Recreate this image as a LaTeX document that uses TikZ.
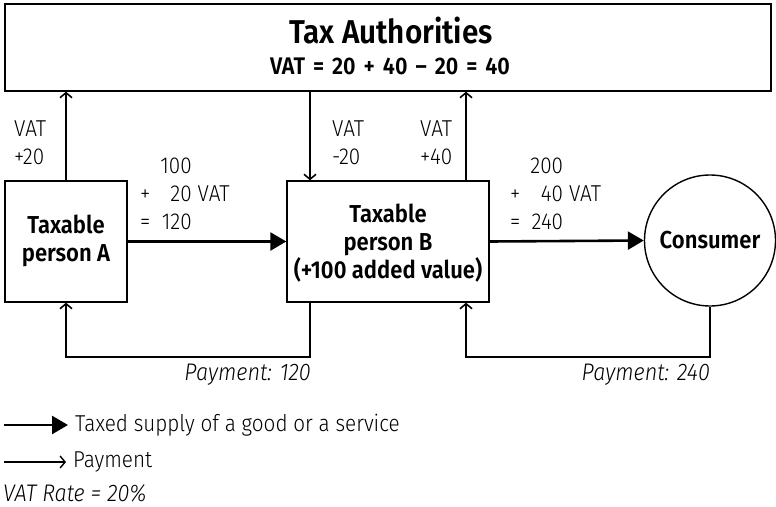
\documentclass[tikz,border=0pt]{standalone}
\usepackage{fontspec}
\setmainfont{Fira Sans}[UprightFont={* Light},BoldFont={* SemiBold},ItalicFont={* Light Italic},BoldItalicFont={* SemiBold Italic},FakeStretch=0.9]
\usetikzlibrary{arrows.meta,calc}
\newcommand\vatgap{\hspace{8pt}}

\begin{document}
\begin{tikzpicture}[x=1pt,y=-1pt,
  box/.style={draw,line width=1.4pt,inner sep=0pt},
  txt/.style={inner sep=0pt,font=\fontsize{23}{28}\selectfont,align=left},
  bold/.style={inner sep=0pt,font=\fontsize{24.5}{28}\selectfont\bfseries,align=center},
  pay/.style={inner sep=0pt,font=\fontsize{24}{28}\selectfont\itshape},
  supply/.style={line width=2.6pt,-{Triangle[length=16pt,width=18pt]}},
  flow/.style={line width=1.8pt,-{Straight Barb[length=5pt,width=12pt,line width=1.6pt]}}]
\useasboundingbox (0,0) rectangle (776,506);

% Tax authorities
\node[box,minimum width=766pt,minimum height=87pt] (tax) at (388,47.5) {};
\node[inner sep=0pt,anchor=base,font=\fontsize{33}{33}\selectfont\bfseries] (taxname) at (391,43) {Tax Authorities};
\node[inner sep=0pt,anchor=base,font=\fontsize{24}{24}\selectfont\bfseries] (taxsum) at (390,74.5) {VAT\vatgap=\vatgap20\vatgap+\vatgap40\vatgap--\vatgap20\vatgap=\vatgap40};

% Persons and consumer
\node[box,minimum width=122pt,minimum height=121pt] (A) at (66,241.5) {};
\node[bold] (Atext) at (66,241) {Taxable\\person A};
\node[box,minimum width=202pt,minimum height=121pt] (B) at (388,241.5) {};
\node[bold] (Btext) at (388,243) {Taxable\\person B\\(+100 added value)};
\node[draw,circle,line width=1.4pt,minimum size=131pt,inner sep=0pt] (C) at (710,240.5) {};
\node[bold] (Ctext) at (710,240.5) {Consumer};

\coordinate (vin) at (310,0);
\coordinate (vout) at (466,0);

% VAT flows
\draw[flow] (A.north) -- (A.north |- tax.south);
\draw[flow] (tax.south -| vin) -- (B.north -| vin);
\draw[flow] (B.north -| vout) -- (tax.south -| vout);
\node[txt,anchor=west] (vatA) at (14,143) {VAT\\+20};
\node[txt,anchor=west] (vatB1) at (332,143) {VAT\\-20};
\node[txt,anchor=west] (vatB2) at (420,143) {VAT\\+40};

% Supplies
\draw[supply] (A.east) -- (B.west);
\draw[supply] (B.east) -- (C.west);
\node[txt,anchor=west] (sumA) at (140,196) {\begin{tabular}{@{}l@{\hspace{10pt}}r@{\hspace{6pt}}l@{}} & 100 & \\ + & 20 & VAT\\ = & 120 & \end{tabular}};
\node[txt,anchor=west] (sumB) at (510,196) {\begin{tabular}{@{}l@{\hspace{10pt}}r@{\hspace{6pt}}l@{}} & 200 & \\ + & 40 & VAT\\ = & 240 & \end{tabular}};

% Payments
\draw[flow] (B.south -| vin) -- ++(0,54) -| (A.south);
\draw[flow] (C.south) -- ++(0,50) -| (B.south -| vout);
\node[pay,anchor=base east] (payA) at (311,380) {Payment: 120};
\node[pay,anchor=base east] (payB) at (710,380) {Payment: 240};

% Legend
\coordinate (l1) at (4,425);
\coordinate (l2) at (4,462);
\node[txt,anchor=west,inner xsep=7pt] (leg1) at (68,425) {Taxed supply of a good or a service};
\node[txt,anchor=west,inner xsep=7pt] (leg2) at (66,462) {Payment};
\draw[supply] (l1) -- (leg1.west);
\draw[line width=1.6pt,-{Straight Barb[length=5pt,width=12pt,line width=1.4pt]}] (l2) -- (leg2.west);
\node[pay,anchor=base west] (rate) at (3,501) {VAT Rate = 20\%};
\end{tikzpicture}
\end{document}
